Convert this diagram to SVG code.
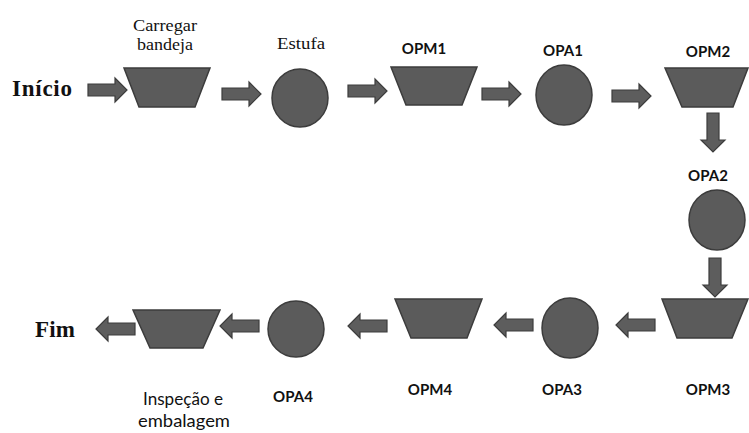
<svg xmlns="http://www.w3.org/2000/svg" width="749" height="433" viewBox="0 0 749 433">
<style>
.shape{fill:#5b5b5b;stroke:#3c3c3c;stroke-width:1.5}
.arr{fill:#5d5d5d;stroke:#3c3c3c;stroke-width:1.2}
.sans{font-family:Lato,"Open Sans",sans-serif;font-size:15px;font-weight:bold;fill:#111;text-anchor:middle}
.lbl{font-family:Lato,"Open Sans",sans-serif;font-size:17px;fill:#111;text-anchor:middle}
.serif{font-family:"Liberation Serif",serif;font-size:17px;fill:#111;text-anchor:middle}
.big{font-family:"Liberation Serif",serif;font-size:23px;font-weight:bold;fill:#111}
</style>
<defs>
<path id="ar" d="M0,-6 L27,-6 L27,-12 L39,0 L27,12 L27,6 L0,6 Z"/>
</defs>
<rect width="749" height="433" fill="#fff"/>
<g id="inicio"><text class="big" x="12" y="96" textLength="60">Início</text></g>
<g id="carregar">
<polygon class="shape" points="124,68 210,68 195,107 139,107"/>
<text class="serif" x="165" y="31" textLength="64" lengthAdjust="spacingAndGlyphs">Carregar</text>
<text class="serif" x="165" y="50" textLength="56" lengthAdjust="spacingAndGlyphs">bandeja</text>
</g>
<g id="estufa">
<ellipse class="shape" cx="300" cy="98" rx="28" ry="29"/>
<text class="serif" x="301" y="49" textLength="48" lengthAdjust="spacingAndGlyphs">Estufa</text>
</g>
<g id="opm1">
<polygon class="shape" points="391,67 477,67 462,105 406,105"/>
<text class="sans" x="424" y="54">OPM1</text>
</g>
<g id="opa1">
<ellipse class="shape" cx="564" cy="95" rx="28" ry="30"/>
<text class="sans" x="563" y="56">OPA1</text>
</g>
<g id="opm2">
<polygon class="shape" points="665,68 748,68 733,107 682,107"/>
<text class="sans" x="708" y="57">OPM2</text>
</g>
<g id="opa2">
<ellipse class="shape" cx="717" cy="220" rx="28" ry="30"/>
<text class="sans" x="708" y="181">OPA2</text>
</g>
<g id="opm3">
<polygon class="shape" points="662,299 748,299 732,338 677,338"/>
<text class="sans" x="708" y="395">OPM3</text>
</g>
<g id="opa3">
<ellipse class="shape" cx="570" cy="328" rx="28" ry="30"/>
<text class="sans" x="562" y="395">OPA3</text>
</g>
<g id="opm4">
<polygon class="shape" points="395,299 482,299 467,338 411,338"/>
<text class="sans" x="430" y="395">OPM4</text>
</g>
<g id="opa4">
<ellipse class="shape" cx="296" cy="329" rx="28" ry="28"/>
<text class="sans" x="293" y="402">OPA4</text>
</g>
<g id="inspecao">
<polygon class="shape" points="133,310 220,310 203,348 150,348"/>
<text class="lbl" x="183" y="405" textLength="80" lengthAdjust="spacingAndGlyphs">Inspeção e</text>
<text class="lbl" x="184" y="427" textLength="92" lengthAdjust="spacingAndGlyphs">embalagem</text>
</g>
<g id="fim"><text class="big" x="35" y="337" textLength="40">Fim</text></g>
<g id="connectors">
<use href="#ar" class="arr" transform="translate(88,90)"/>
<use href="#ar" class="arr" transform="translate(222,94)"/>
<use href="#ar" class="arr" transform="translate(348,91)"/>
<use href="#ar" class="arr" transform="translate(482,94)"/>
<use href="#ar" class="arr" transform="translate(612,96)"/>
<use href="#ar" class="arr" transform="translate(713,113) rotate(90)"/>
<use href="#ar" class="arr" transform="translate(715,258) rotate(90)"/>
<use href="#ar" class="arr" transform="translate(655,325) rotate(180)"/>
<use href="#ar" class="arr" transform="translate(533,325) rotate(180)"/>
<use href="#ar" class="arr" transform="translate(387,326) rotate(180)"/>
<use href="#ar" class="arr" transform="translate(259,326) rotate(180)"/>
<use href="#ar" class="arr" transform="translate(135,329) rotate(180)"/>
</g>
</svg>
